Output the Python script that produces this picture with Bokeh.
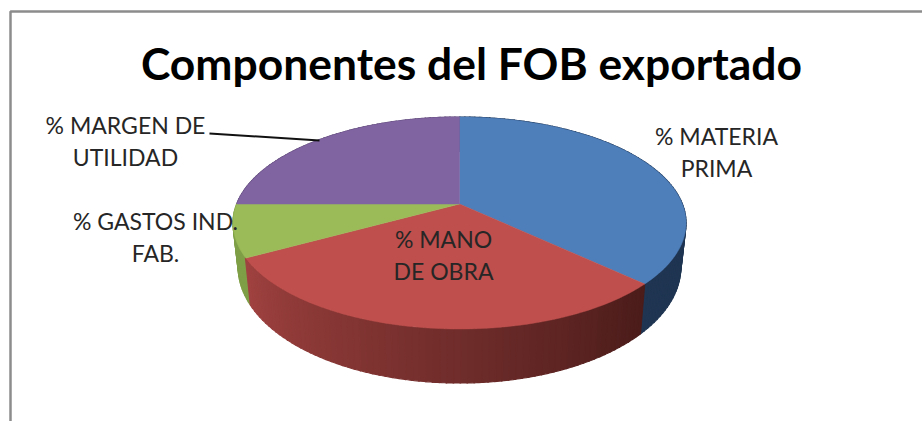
from bokeh.plotting import figure
from bokeh.models import Range1d, ColumnDataSource
from bokeh.core.properties import value
from bokeh.embed import file_html
from bokeh.resources import INLINE
import numpy as np

title = "Componentes del FOB exportado"
categories = ["% MATERIA PRIMA", "% MANO DE OBRA", "% GASTOS IND. FAB.", "% MARGEN DE UTILIDAD"]
shares = [37, 30, 8, 25]
top_colors = ["#4F7FBB", "#BE4F4C", "#9BBB59", "#8064A2"]
label_lines = [["% MATERIA", "PRIMA"], ["% MANO", "DE OBRA"], ["% GASTOS IND.", "FAB."], ["% MARGEN DE", "UTILIDAD"]]
label_pos = [(716, 135), (443, 238), (155, 220), (125, 124)]
LINE_GAP = 32

W, H = 922, 421
p = figure(width=W, height=H, output_backend="svg", toolbar_location=None,
           x_range=Range1d(0, W), y_range=Range1d(H, 0),
           min_border=0, outline_line_color=None, background_fill_color="white",
           border_fill_color="white")
p.axis.visible = False
p.grid.visible = False

# perspective projection of a flat disc
CX, CY = 459.0, 203.5
K, A, B = 0.179, 102.6, 222.9


def top_pt(t):
    u, v = np.sin(t), np.cos(t)
    w = 1 + K * v
    return CX + B * u / w, CY - A * v / w


def low_pt(t):
    u, v = np.sin(t), np.cos(t)
    w = 1 + K * v
    return CX + 0.977 * B * u / w, CY + 42.3 - 1.094 * A * v / w


def mix(c1, c2, f):
    a = [int(c1[i:i + 2], 16) for i in (1, 3, 5)]
    b = [int(c2[i:i + 2], 16) for i in (1, 3, 5)]
    return "#%02x%02x%02x" % tuple(round(x + (y - x) * f) for x, y in zip(a, b))


edges = np.cumsum([0] + shares) / sum(shares) * 2 * np.pi
wall_ends = [("#1F3552", "#1F3552"), ("#4A1C1A", "#A04240"), ("#7F9F47", "#7F9F47"), ("#5A4672", "#5A4672")]

# outer wall, built from narrow strips so the shading can run along it
xs, ys, cs = [], [], []
for i in [3, 2, 0, 1]:
    n = max(2, int(shares[i] * 2.4))
    ts = np.linspace(edges[i], edges[i + 1], n + 1)
    for j in range(n):
        t = np.linspace(ts[j], ts[j + 1] + 0.004, 4)
        tx, ty = top_pt(t)
        lx, ly = low_pt(t)
        xs.append(list(tx) + list(lx[::-1]))
        ys.append(list(ty) + list(ly[::-1]))
        cs.append(mix(wall_ends[i][0], wall_ends[i][1], (j + .5) / n))
p.patches("x", "y", fill_color="c", line_color="c", line_width=1.2,
          source=ColumnDataSource(dict(x=xs, y=ys, c=cs)))

# top face
xs, ys = [], []
for i in range(len(shares)):
    t = np.linspace(edges[i], edges[i + 1], 90)
    tx, ty = top_pt(t)
    xs.append([CX] + list(tx))
    ys.append([CY] + list(ty))
p.patches("x", "y", fill_color="c", line_color="c", line_width=0.5,
          source=ColumnDataSource(dict(x=xs, y=ys, c=top_colors)))

# frame, as in the cropped source
p.line([10, 10, W], [H, 11, 11], line_color="#8C8C8C", line_width=2.5)

# leader line
p.line([209, 319], [133, 140], line_color="#111111", line_width=2)

FONT = value("Lato")
p.text([471], [62], text=[title], text_font=FONT, text_font_style="bold",
       text_font_size="44.4px", text_align="center", text_baseline="middle", text_color="#000000")
tx, ty, tt = [], [], []
for lines, (lx, ly) in zip(label_lines, label_pos):
    for k, s in enumerate(lines):
        tx.append(lx); ty.append(ly + k * LINE_GAP); tt.append(s)
p.text(tx, ty, text=tt, text_font=FONT, text_font_size="23px", text_align="center",
       text_baseline="middle", text_color="#262626")

open("out.html", "w").write(file_html(p, INLINE))
